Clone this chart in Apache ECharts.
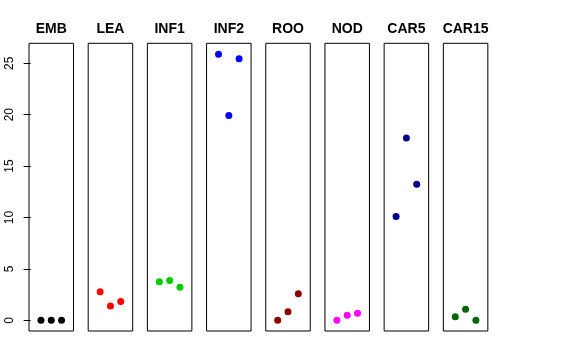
<!DOCTYPE html>
<html>
<head>
<meta charset="utf-8">
<script src="https://cdn.jsdelivr.net/npm/echarts@6/dist/echarts.min.js"></script>
<style>
html,body{margin:0;padding:0;background:#fff;}
#c{width:576px;height:360px;}
</style>
</head>
<body>
<div id="c"></div>
<script>
// ---- data ----
var categories = ["EMB", "LEA", "INF1", "INF2", "ROO", "NOD", "CAR5", "CAR15"];
var replicates = [1, 2, 3];
var EMB   = [0.00, 0.00, 0.00];
var LEA   = [2.78, 1.39, 1.84];
var INF1  = [3.75, 3.88, 3.23];
var INF2  = [25.88, 19.93, 25.44];
var ROO   = [0.00, 0.84, 2.58];
var NOD   = [0.00, 0.49, 0.68];
var CAR5  = [10.10, 17.73, 13.23];
var CAR15 = [0.35, 1.07, 0.00];
var yTicks = [0, 5, 10, 15, 20, 25];

var seriesValues = [EMB, LEA, INF1, INF2, ROO, NOD, CAR5, CAR15];
var colors = ["#000000", "#FF0000", "#00CD00", "#0000FF", "#8B0000", "#FF00FF", "#00008B", "#006400"];

// ---- layout ----
var font = "Liberation Sans, Arial, Helvetica, sans-serif";
var gLeft0 = 29, gStep = 59.19, gW = 44.5, gTop = 43.3, gH = 287.7;
var yMin = -1.036, yMax = 26.94;

var grids = [], xAxes = [], yAxes = [], series = [], titles = [];
categories.forEach(function (cat, i) {
  var l = gLeft0 + gStep * i;
  grids.push({left: l, top: gTop, width: gW, height: gH, show: true,
              borderColor: "#000", borderWidth: 1, backgroundColor: "transparent", containLabel: false});
  xAxes.push({type: "value", gridIndex: i, min: -0.16, max: 4.16, show: false});
  yAxes.push({
    type: "value", gridIndex: i, min: yMin, max: yMax, show: i === 0,
    axisLine: {show: false},
    splitLine: {show: false},
    axisTick: {show: true, length: 7, customValues: yTicks, lineStyle: {color: "#000", width: 1}},
    axisLabel: {show: true, customValues: yTicks, rotate: 90, margin: 13, fontSize: 12,
                color: "#000", fontFamily: font}
  });
  series.push({
    type: "scatter", xAxisIndex: i, yAxisIndex: i, symbol: "circle", symbolSize: 7,
    itemStyle: {color: colors[i], opacity: 1},
    data: seriesValues[i].map(function (v, k) { return [replicates[k], v]; }),
    silent: true
  });
  titles.push({
    text: cat, left: l + gW / 2, top: 21, textAlign: "center", padding: 0,
    textStyle: {fontSize: 14, fontWeight: "bold", color: "#000", fontFamily: font, lineHeight: 16}
  });
});

var chart = echarts.init(document.getElementById("c"), null, {renderer: "canvas"});
chart.setOption({
  animation: false,
  backgroundColor: "#fff",
  title: titles,
  grid: grids,
  xAxis: xAxes,
  yAxis: yAxes,
  series: series
});
</script>
</body>
</html>
